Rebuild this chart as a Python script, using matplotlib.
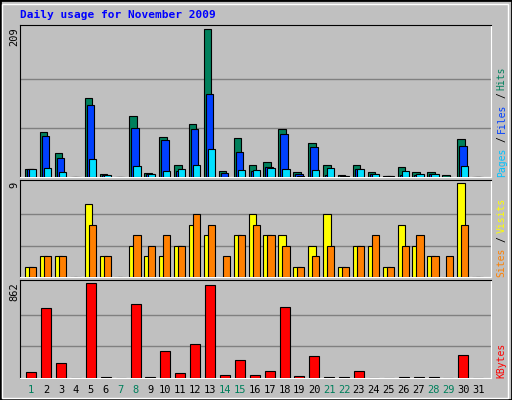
import matplotlib.pyplot as plt
import matplotlib.patches as mpatches

days = list(range(1, 32))
hits = [11, 64, 34, 0, 112, 4, 0, 87, 6, 57, 17, 75, 209, 9, 55, 17, 21, 68, 7, 48, 17, 3, 17, 7, 1, 14, 7, 7, 3, 54, 0]
files = [11, 58, 27, 0, 102, 3, 0, 70, 4, 52, 9, 68, 118, 6, 35, 9, 14, 61, 4, 43, 3, 2, 11, 4, 1, 3, 3, 4, 0, 44, 0]
pages = [11, 13, 7, 0, 26, 3, 0, 16, 4, 9, 11, 17, 40, 0, 10, 10, 13, 11, 2, 10, 13, 1, 11, 4, 1, 9, 4, 4, 0, 16, 0]
sites = [1, 2, 2, 0, 7, 2, 0, 3, 2, 2, 3, 5, 4, 0, 4, 6, 4, 4, 1, 3, 6, 1, 3, 3, 1, 5, 3, 2, 0, 9, 0]
visits = [1, 2, 2, 0, 5, 2, 0, 4, 3, 4, 3, 6, 5, 2, 4, 5, 4, 3, 1, 2, 3, 1, 3, 4, 1, 3, 4, 2, 2, 5, 0]
kbytes = [50, 633, 135, 0, 862, 5, 0, 670, 5, 247, 41, 304, 839, 31, 163, 31, 59, 642, 22, 200, 5, 5, 59, 0, 0, 5, 5, 5, 0, 210, 0]
weekend = [1, 7, 8, 14, 15, 21, 22, 28, 29]

BG = '#C0C0C0'
MONO = 'DejaVu Sans Mono'

fig = plt.figure(figsize=(5.12, 4.0), dpi=100, facecolor=BG)
W, H = 512, 400
fig.patches.append(mpatches.Rectangle((0, 0), 1, 1, transform=fig.transFigure,
                                      fill=False, edgecolor='black', lw=2))
fig.patches.append(mpatches.Rectangle((2 / W, 2 / H), 1 - 6 / W, 1 - 6 / H, transform=fig.transFigure,
                                      fill=False, edgecolor='white', lw=1))
fig.text(20 / W, 1 - 15 / H, 'Daily usage for November 2009', color='#0000FF',
         fontsize=8, fontweight='bold', family=MONO, va='center')


def panel(top, bottom):
    ax = fig.add_axes([20 / W, 1 - bottom / H, 471 / W, (bottom - top) / H])
    ax.set_facecolor(BG)
    ax.set_xlim(0.13, 31.74)
    for s in ['left', 'top']:
        ax.spines[s].set_color('black')
    for s in ['right', 'bottom']:
        ax.spines[s].set_color('white')
    ax.set_xticks([])
    ax.set_yticks([])
    return ax


def grid(ax, top, ytop):
    ax.set_ylim(0, top * 1.03)
    for f in (1 / 3, 2 / 3):
        ax.axhline(top * f, color='#808080', lw=1, zorder=0)
    fig.text(19 / W, 1 - ytop / H, str(top), rotation=90, ha='right', va='top',
             fontsize=7.5, family=MONO, zorder=10)


def side(ax, parts):
    y = 0.0
    for txt, col in parts:
        ax.text(1.012, y, txt, transform=ax.transAxes, rotation=90, ha='left', va='bottom',
                fontsize=7, family=MONO, color=col)
        y += (len(txt) + 0.3) * 0.045 * (147 / ax.bbox.height)


kw = dict(edgecolor='black', lw=0.8, align='edge', zorder=3)

ax1 = panel(25, 177)
grid(ax1, 209, 27)
ax1.bar([d - 0.53 for d in days], hits, width=0.5, color='#00805C', **kw)
ax1.bar([d - 0.40 for d in days], files, width=0.5, color='#0040FF', **kw)
ax1.bar([d - 0.26 for d in days], pages, width=0.48, color='#00E0FF', **kw)
side(ax1, [('Pages', '#00C0FF'), ('/', 'black'), ('Files', '#0040FF'), ('/', 'black'), ('Hits', '#00805C')])

ax2 = panel(180, 277)
grid(ax2, 9, 182)
ax2.bar([d - 0.53 for d in days], sites, width=0.5, color='#FFFF00', **kw)
ax2.bar([d - 0.26 for d in days], visits, width=0.48, color='#FF8000', **kw)
side(ax2, [('Sites', '#FF8000'), ('/', 'black'), ('Visits', '#FFFF00')])

ax3 = panel(280, 378)
grid(ax3, 862, 282)
ax3.bar([d - 0.45 for d in days], kbytes, width=0.67, color='#FF0000', **kw)
side(ax3, [('KBytes', '#FF0000')])
for d in days:
    ax3.text(d - 0.12, -0.12, str(d), transform=ax3.get_xaxis_transform(), ha='center', va='center',
             fontsize=7.5, family=MONO, color='#00805C' if d in weekend else 'black')

fig.savefig('out.png', dpi=100, facecolor=BG)
